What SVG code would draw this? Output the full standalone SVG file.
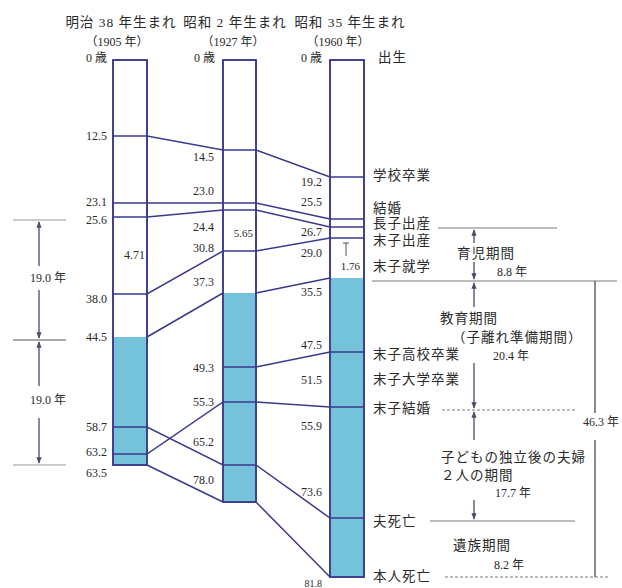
<svg xmlns="http://www.w3.org/2000/svg" width="622" height="588" viewBox="0 0 622 588">
<style>
.bar{fill:#ffffff;stroke:#3a3a8e;stroke-width:1.6}
.blue{fill:#74c3da;stroke:none}
.ln{fill:none;stroke:#3a3a8e;stroke-width:1.5}
.num{font-family:"Liberation Serif","Noto Sans CJK JP",serif;font-size:12px;fill:#2a2a2a;text-anchor:end}
.jp{font-family:"Liberation Serif","Noto Sans CJK JP",serif;font-size:13.5px;fill:#2a2a2a;letter-spacing:1px}
.hd{font-family:"Liberation Serif","Noto Sans CJK JP",serif;font-size:13.5px;fill:#2a2a2a;text-anchor:middle;letter-spacing:1px}
.sub{font-family:"Liberation Serif","Noto Sans CJK JP",serif;font-size:12px;fill:#2a2a2a;text-anchor:middle}
.mid{text-anchor:middle}
.ref{fill:none;stroke:#7a7a7a;stroke-width:1.1}
.dash{fill:none;stroke:#7a7a7a;stroke-width:1.1;stroke-dasharray:3 2}
.arr{fill:none;stroke:#4a4a6a;stroke-width:1.3}
</style>
<defs>
<marker id="ah" viewBox="0 0 10 10" refX="9" refY="5" markerWidth="5" markerHeight="5" orient="auto-start-reverse">
<path d="M0,1 L10,5 L0,9 z" fill="#4a4a6a"/>
</marker>
</defs>

<g id="headers">
<text class="hd" x="121" y="27">明治 38 年生まれ</text>
<text class="sub" x="117" y="46">（1905 年）</text>
<text class="hd" x="235" y="27">昭和 2 年生まれ</text>
<text class="sub" x="233" y="46">（1927 年）</text>
<text class="hd" x="350" y="27">昭和 35 年生まれ</text>
<text class="sub" x="338" y="46">（1960 年）</text>
</g>

<g id="col1">
<rect class="bar" x="113" y="60" width="34" height="405"/>
<rect class="blue" x="114" y="337" width="32" height="127"/>
<rect class="bar" x="113" y="60" width="34" height="405" fill="none" style="fill:none"/>
<text class="num" x="107" y="62">0 歳</text>
<text class="num" x="107" y="140">12.5</text>
<text class="num" x="107" y="206">23.1</text>
<text class="num" x="107" y="224">25.6</text>
<text class="num" x="107" y="303">38.0</text>
<text class="num" x="107" y="341">44.5</text>
<text class="num" x="107" y="431">58.7</text>
<text class="num" x="107" y="456">63.2</text>
<text class="num" x="107" y="477">63.5</text>
<text class="num" x="145" y="259">4.71</text>
</g>

<g id="col2">
<rect class="bar" x="223" y="60" width="33" height="442"/>
<rect class="blue" x="224" y="293" width="31" height="208"/>
<rect class="bar" x="223" y="60" width="33" height="442" style="fill:none"/>
<text class="num" x="215" y="62">0 歳</text>
<text class="num" x="214" y="161">14.5</text>
<text class="num" x="214" y="195">23.0</text>
<text class="num" x="214" y="231">24.4</text>
<text class="num" x="214" y="252">30.8</text>
<text class="num" x="214" y="286">37.3</text>
<text class="num" x="214" y="372">49.3</text>
<text class="num" x="214" y="406">55.3</text>
<text class="num" x="214" y="446">65.2</text>
<text class="num" x="214" y="484">78.0</text>
<text class="num" x="253" y="237" style="font-size:11px">5.65</text>
</g>

<g id="col3">
<rect class="bar" x="330" y="60" width="34" height="517"/>
<rect class="blue" x="331" y="278" width="32" height="298"/>
<rect class="bar" x="330" y="60" width="34" height="517" style="fill:none"/>
<text class="num" x="322" y="62">0 歳</text>
<text class="num" x="322" y="186">19.2</text>
<text class="num" x="322" y="206">25.5</text>
<text class="num" x="322" y="236">26.7</text>
<text class="num" x="322" y="257">29.0</text>
<text class="num" x="322" y="296">35.5</text>
<text class="num" x="322" y="349">47.5</text>
<text class="num" x="322" y="384">51.5</text>
<text class="num" x="322" y="430">55.9</text>
<text class="num" x="322" y="496">73.6</text>
<text class="num" x="322" y="587" style="font-size:10px">81.8</text>
<text class="num" x="360" y="270" style="font-size:11px">1.76</text>
<path d="M346,243 V256 M343,243 H349" fill="none" stroke="#555" stroke-width="1"/>
</g>

<g id="events">
<text class="jp" x="378" y="62">出生</text>
<text class="jp" x="373" y="180">学校卒業</text>
<text class="jp" x="373" y="213">結婚</text>
<text class="jp" x="373" y="228">長子出産</text>
<text class="jp" x="373" y="245">末子出産</text>
<text class="jp" x="373" y="271">末子就学</text>
<text class="jp" x="373" y="359">末子高校卒業</text>
<text class="jp" x="373" y="384">末子大学卒業</text>
<text class="jp" x="373" y="413">末子結婚</text>
<text class="jp" x="373" y="526">夫死亡</text>
<text class="jp" x="373" y="581">本人死亡</text>
</g>

<g id="periods">
<text class="jp" x="457" y="258">育児期間</text>
<text class="num" x="527" y="276" style="text-anchor:end">8.8 年</text>
<text class="jp" x="440" y="323">教育期間</text>
<text class="jp" x="452" y="342">（子離れ準備期間）</text>
<text class="num" x="529" y="360">20.4 年</text>
<text class="jp" x="441" y="462">子どもの独立後の夫婦</text>
<text class="jp" x="441" y="480">２人の期間</text>
<text class="num" x="531" y="497">17.7 年</text>
<text class="jp" x="453" y="550">遺族期間</text>
<text class="num" x="524" y="569">8.2 年</text>
<text class="num" x="619" y="426">46.3 年</text>
<text class="num" x="66" y="282">19.0 年</text>
<text class="num" x="66" y="404">19.0 年</text>
</g>

<g id="connectors">
<path class="ln" d="M113,136 H147 L223,150 H256 L330,177 H364"/>
<path class="ln" d="M113,203 H147 L223,203 H256 L330,219 H364"/>
<path class="ln" d="M113,217 H147 L223,210 H256 L330,227 H364"/>
<path class="ln" d="M113,294 H147 L223,251 H256 L330,238 H364"/>
<path class="ln" d="M147,337 L223,293 M256,293 L330,278"/>
<path class="ln" d="M223,367 H256 L330,352 H364"/>
<path class="ln" d="M113,427 H147 L223,465 H256 L330,518 H364"/>
<path class="ln" d="M113,454 H147 L223,402 H256 L330,407 H364"/>
<path class="ln" d="M147,465 L223,502 M256,502 L330,577"/>

<path class="ref" d="M438,228 H557"/>
<path class="ref" d="M372,281 H617"/>
<path class="dash" d="M442,410 H577"/>
<path class="ref" d="M430,521 H575"/>
<path class="dash" d="M445,577 H610"/>
<path class="ref" d="M595,281 V413 M595,440 V577" style="stroke-width:1.5;stroke:#666"/>

<path class="arr" d="M474,243 V230" marker-end="url(#ah)"/>
<path class="arr" d="M474,262 V279" marker-end="url(#ah)"/>
<path class="arr" d="M474,307 V283" marker-end="url(#ah)"/>
<path class="arr" d="M474,363 V408" marker-end="url(#ah)"/>
<path class="arr" d="M474,440 V412" marker-end="url(#ah)"/>
<path class="arr" d="M474,500 V519" marker-end="url(#ah)"/>

<path class="ref" d="M13,220 H66" style="stroke:#999"/>
<path class="ref" d="M13,340 H66" style="stroke:#556"/>
<path class="ref" d="M13,465 H66" style="stroke:#999"/>
<path class="arr" d="M39,266 V222" marker-end="url(#ah)"/>
<path class="arr" d="M39,290 V338" marker-end="url(#ah)"/>
<path class="arr" d="M39,386 V342" marker-end="url(#ah)"/>
<path class="arr" d="M39,418 V463" marker-end="url(#ah)"/>
</g>
</svg>
